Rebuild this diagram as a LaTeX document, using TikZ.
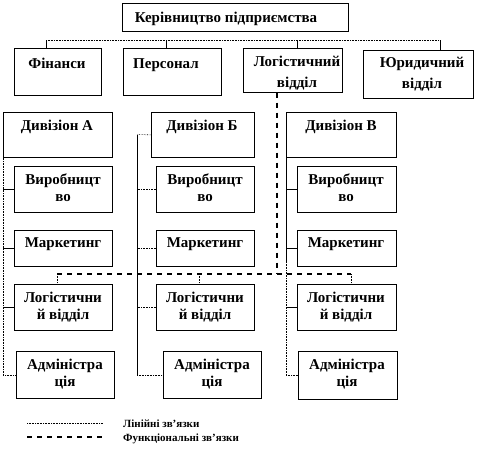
\documentclass[tikz,border=0pt]{standalone}
\usepackage{fontspec}
\setmainfont{Liberation Serif}[BoldFont={Liberation Serif Bold}]
\begin{document}
\begin{tikzpicture}[x=1pt,y=-1pt,
  boxst/.style={draw=black,line width=0.7pt,rectangle,inner sep=0pt,anchor=north west},
  txt/.style={inner sep=0pt,anchor=north,align=center,font=\bfseries\fontsize{15}{17}\selectfont},
  txttop/.style={txt,font=\bfseries\fontsize{15}{21}\selectfont},
  lin/.style={line width=0.6pt},
  lind/.style={line width=0.6pt,densely dotted},
  func/.style={line width=1.2pt,dash pattern=on 5pt off 5pt},
  legtxt/.style={inner sep=0pt,anchor=base west,font=\bfseries\fontsize{11}{12}\selectfont}]
\useasboundingbox (0,0) rectangle (486,450);
% top row
\node[boxst,minimum width=226pt,minimum height=28pt] (top) at (122,3) {};
\node[txt] (topt) at (226,12) {Керівництво підприємства};
\node[boxst,minimum width=87pt,minimum height=47pt] (fin) at (14,48) {};
\node[txt] (fint) at (57,58) {Фінанси};
\node[boxst,minimum width=98pt,minimum height=47pt] (pers) at (123,48) {};
\node[txt] (perst) at (166,58) {Персонал};
\node[boxst,minimum width=99pt,minimum height=44pt] (log) at (243,48) {};
\node[txttop] (logt) at (297,56) {Логістичний\\відділ};
\node[boxst,minimum width=110pt,minimum height=48pt] (jur) at (363,50) {};
\node[txttop] (jurt) at (422,57) {Юридичний\\відділ};
% division A
\node[boxst,minimum width=109pt,minimum height=45pt] (divA) at (3,112) {};
\node[txt] (divAt) at (57,120) {Дивізіон А};
\node[boxst,minimum width=98pt,minimum height=46pt] (vyrA) at (14,166) {};
\node[txt] (vyrAt) at (63,174) {Виробницт\\во};
\node[boxst,minimum width=98pt,minimum height=36pt] (marA) at (14,230) {};
\node[txt] (marAt) at (63,237) {Маркетинг};
\node[boxst,minimum width=98pt,minimum height=46pt] (logA) at (14,284) {};
\node[txt] (logAt) at (63,292) {Логістични\\й відділ};
\node[boxst,minimum width=98pt,minimum height=47pt] (admA) at (16,351) {};
\node[txt] (admAt) at (65,359) {Адміністра\\ція};
% division B
\node[boxst,minimum width=103pt,minimum height=45pt] (divB) at (151,112) {};
\node[txt] (divBt) at (202,120) {Дивізіон Б};
\node[boxst,minimum width=98pt,minimum height=46pt] (vyrB) at (156,166) {};
\node[txt] (vyrBt) at (205,174) {Виробницт\\во};
\node[boxst,minimum width=98pt,minimum height=36pt] (marB) at (156,230) {};
\node[txt] (marBt) at (205,237) {Маркетинг};
\node[boxst,minimum width=98pt,minimum height=46pt] (logB) at (156,284) {};
\node[txt] (logBt) at (205,292) {Логістични\\й відділ};
\node[boxst,minimum width=98pt,minimum height=47pt] (admB) at (163,351) {};
\node[txt] (admBt) at (212,359) {Адміністра\\ція};
% division C
\node[boxst,minimum width=110pt,minimum height=45pt] (divC) at (286,112) {};
\node[txt] (divCt) at (341,120) {Дивізіон В};
\node[boxst,minimum width=99pt,minimum height=46pt] (vyrC) at (297,166) {};
\node[txt] (vyrCt) at (346,174) {Виробницт\\во};
\node[boxst,minimum width=99pt,minimum height=36pt] (marC) at (297,230) {};
\node[txt] (marCt) at (346,237) {Маркетинг};
\node[boxst,minimum width=99pt,minimum height=46pt] (logC) at (297,284) {};
\node[txt] (logCt) at (346,292) {Логістични\\й відділ};
\node[boxst,minimum width=99pt,minimum height=48pt] (admC) at (298,351) {};
\node[txt] (admCt) at (347,359) {Адміністра\\ція};
% top bus
\coordinate (b1) at (46,40);
\coordinate (b2) at (166,40);
\coordinate (b3) at (297,40);
\coordinate (b4) at (440,40);
\draw[lind] (b1) -- (b4);
\draw[lin] (b1) -- (b1 |- fin.north);
\draw[lin] (b2) -- (b2 |- pers.north);
\draw[lin] (b3) -- (b3 |- log.north);
\draw[lin] (b4) -- (b4 |- jur.north);
% division A lines
\draw[lind] (divA.south west) -- (divA.south west |- admA.west) -- (admA.west);
\draw[lin] (vyrA.west) -- (vyrA.west -| divA.west);
\draw[lin] (marA.west) -- (marA.west -| divA.west);
\draw[lin] (logA.west) -- (logA.west -| divA.west);
% division B lines
\coordinate (bT) at (137,134.5);
\draw[lind] (divB.west) -- (bT);
\draw[lin] (bT) -- (bT |- admB.west);
\draw[lind] (bT |- admB.west) -- (admB.west);
\draw[lind] (vyrB.west) -- (vyrB.west -| bT);
\draw[lind] (marB.west) -- (marB.west -| bT);
\draw[lind] (logB.west) -- (logB.west -| bT);
% division C lines
\coordinate (cM) at (286,262);
\draw[lin] (divC.south west) -- (cM);
\draw[lind] (cM) -- (cM |- admC.west) -- (admC.west);
\draw[lin] (vyrC.west) -- (vyrC.west -| divC.west);
\draw[lin] (marC.west) -- (marC.west -| divC.west);
\draw[lin] (logC.west) -- (logC.west -| divC.west);
% functional links
\coordinate (fV) at (277,274);
\coordinate (fL) at (57,274);
\coordinate (fB) at (199,274);
\coordinate (fR) at (351,274);
\draw[func] (fV |- log.south) -- (fV);
\draw[func] (fL) -- (fR);
\draw[lind] (fL) -- (fL |- logA.north);
\draw[lind] (fB) -- (fB |- logB.north);
\draw[lind] (fR) -- (fR |- logC.north);
% legend
\coordinate (l1a) at (27,423);
\coordinate (l1b) at (103,423);
\coordinate (l2a) at (27,437);
\coordinate (l2b) at (103,437);
\draw[lind] (l1a) -- (l1b);
\draw[func] (l2a) -- (l2b);
\node[legtxt] (leg1) at (123,427) {Лінійні зв’язки};
\node[legtxt] (leg2) at (123,441) {Функціональні зв’язки};
\end{tikzpicture}
\end{document}
